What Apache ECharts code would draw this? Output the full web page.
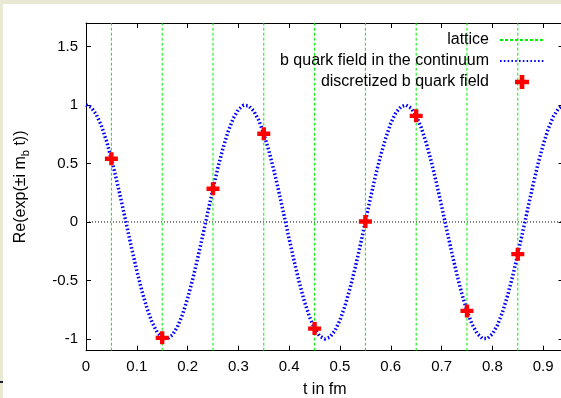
<!DOCTYPE html>
<html><head><meta charset="utf-8">
<script src="https://cdn.jsdelivr.net/npm/echarts@6/dist/echarts.min.js"></script>
<style>html,body{margin:0;padding:0;background:#fff}#c{width:561px;height:398px}</style>
</head><body><div id="c"></div>
<script>
// continuum b quark field: Re(exp(±i m_b t))
const contT = [0,0.01,0.02,0.03,0.04,0.05,0.06,0.07,0.08,0.09,
  0.10,0.11,0.12,0.13,0.14,0.15,0.16,0.17,0.18,0.19,
  0.20,0.21,0.22,0.23,0.24,0.25,0.26,0.27,0.28,0.29,
  0.30,0.31,0.32,0.33,0.34,0.35,0.36,0.37,0.38,0.39,
  0.40,0.41,0.42,0.43,0.44,0.45,0.46,0.47,0.48,0.49,
  0.50,0.51,0.52,0.53,0.54,0.55,0.56,0.57,0.58,0.59,
  0.60,0.61,0.62,0.63,0.64,0.65,0.66,0.67,0.68,0.69,
  0.70,0.71,0.72,0.73,0.74,0.75,0.76,0.77,0.78,0.79,
  0.80,0.81,0.82,0.83,0.84,0.85,0.86,0.87,0.88,0.89,
  0.90,0.91,0.92,0.93,0.94];
const contY = [1.000,0.980,0.921,0.825,0.697,0.540,0.362,0.170,-0.029,-0.227,
  -0.416,-0.589,-0.737,-0.857,-0.942,-0.990,-0.998,-0.967,-0.897,-0.791,
  -0.654,-0.490,-0.307,-0.112,0.087,0.284,0.469,0.635,0.776,0.886,
  0.960,0.997,0.993,0.950,0.869,0.754,0.608,0.439,0.251,0.054,
  -0.146,-0.339,-0.519,-0.680,-0.811,-0.911,-0.975,-1.000,-0.985,-0.930,
  -0.839,-0.715,-0.563,-0.389,-0.199,0.004,0.206,0.397,0.568,0.716,
  0.844,0.934,0.985,0.999,0.973,0.907,0.806,0.672,0.512,0.331,
  0.137,-0.063,-0.260,-0.446,-0.615,-0.760,-0.873,-0.953,-0.995,-0.996,
  -0.958,-0.881,-0.770,-0.628,-0.461,-0.275,-0.079,0.121,0.316,0.499,
  0.660,0.796,0.900,0.969,0.999];
// lattice sites and discretized field
const latticeT = [0.05,0.15,0.25,0.35,0.45,0.55,0.65,0.75,0.85];
const discY = [0.540,-0.990,0.284,0.754,-0.911,0.004,0.907,-0.760,-0.275];
// tick labels
const xTicks = [0,0.1,0.2,0.3,0.4,0.5,0.6,0.7,0.8,0.9];
const yTicks = [-1,-0.5,0,0.5,1,1.5];
const xRange = [0, 0.94];
const yRange = [-1.1, 1.7];

const FONT = 'Liberation Sans';
const GREEN = '#00ee00';
const contData = contT.map((t,i)=>[t,contY[i]]);
const discData = latticeT.map((t,i)=>[t,discY[i]]);
const latticeData = [];
latticeT.forEach(t => { latticeData.push([t, yRange[0]], [t, yRange[1]], [t, '-']); });
const zeroData = [[xRange[0], 0], [xRange[1], 0]];
const fmt = v => String(parseFloat(v.toFixed(2)));

const axisBase = {
  type:'value', splitLine:{show:false},
  axisLine:{show:true, onZero:false, lineStyle:{color:'#000', width:1}},
  axisTick:{show:true, inside:true, length:5, lineStyle:{color:'#000'}}
};

const chart = echarts.init(document.getElementById('c'), null, {renderer:'canvas'});
chart.setOption({
  animation:false,
  backgroundColor:'#fff',
  textStyle:{fontFamily:FONT},
  grid:{left:86, top:23, width:477.5, height:327.7, containLabel:false, outerBoundsMode:'none'},
  xAxis:[
    Object.assign({}, axisBase, {min:xRange[0], max:xRange[1], position:'bottom',
      axisTick:Object.assign({}, axisBase.axisTick, {customValues:xTicks}),
      axisLabel:{customValues:xTicks, formatter:fmt, fontSize:15, color:'#000', margin:9, fontFamily:FONT},
      name:'t in fm', nameLocation:'middle', nameGap:31,
      nameTextStyle:{fontSize:16, color:'#000', fontFamily:FONT}}),
    Object.assign({}, axisBase, {min:xRange[0], max:xRange[1], position:'top',
      axisTick:Object.assign({}, axisBase.axisTick, {customValues:xTicks}),
      axisLabel:{show:false}})
  ],
  yAxis:[
    Object.assign({}, axisBase, {min:yRange[0], max:yRange[1], position:'left',
      axisTick:Object.assign({}, axisBase.axisTick, {customValues:yTicks}),
      axisLabel:{customValues:yTicks, formatter:fmt, fontSize:15, color:'#000', margin:8, fontFamily:FONT},
      name:'Re(exp(±i m{sub|b} t))', nameLocation:'middle', nameGap:55, nameRotate:90,
      nameTextStyle:{fontSize:16, color:'#000', fontFamily:FONT,
        rich:{sub:{fontSize:11, color:'#000', fontFamily:FONT, padding:[10,0,0,0]}}}}),
    Object.assign({}, axisBase, {min:yRange[0], max:yRange[1], position:'right',
      axisTick:Object.assign({}, axisBase.axisTick, {customValues:yTicks}),
      axisLabel:{show:false}})
  ],
  legend:{
    orient:'vertical', right:16, top:32, align:'right', padding:0,
    itemWidth:44, itemHeight:14, itemGap:5,
    textStyle:{fontSize:16, lineHeight:16, color:'#000', fontFamily:FONT, padding:[0,6,0,0]},
    data:[
      {name:'lattice', itemStyle:{opacity:0}},
      {name:'b quark field in the continuum', itemStyle:{opacity:0}},
      {name:'discretized b quark field'}
    ]
  },
  series:[
    {name:'zero', type:'line', data:zeroData, symbol:'none', silent:true, z:1,
      lineStyle:{color:'#000', width:1, type:[1,2]}},
    {name:'lattice', type:'line', data:latticeData, symbol:'none', showSymbol:false,
      connectNulls:false, silent:true, z:2,
      itemStyle:{color:GREEN},
      lineStyle:{color:GREEN, width:1, type:[3,2]}},
    {name:'b quark field in the continuum', type:'line', data:contData,
      symbol:'none', showSymbol:false, smooth:false, z:3,
      itemStyle:{color:'#0000ff'},
      lineStyle:{color:'#0000ff', width:3.5, type:[1.6,2.2], cap:'butt'}},
    {name:'discretized b quark field', type:'scatter', data:discData,
      symbol:'path://M4,0H8V4H12V8H8V12H4V8H0V4H4Z', symbolSize:13, symbolKeepAspect:true, z:5,
      itemStyle:{color:'#ff0000', opacity:1}}
  ],
  graphic:[
    {type:'rect', shape:{x:0,y:0,width:561,height:4}, style:{fill:'#e9e9d3'}, silent:true, z:100},
    {type:'rect', shape:{x:0,y:0,width:3,height:398}, style:{fill:'#e9e9d3'}, silent:true, z:100},
    {type:'rect', shape:{x:0,y:381,width:3,height:2}, style:{fill:'#1c1c30'}, silent:true, z:101}
  ]
});
</script>
</body></html>
